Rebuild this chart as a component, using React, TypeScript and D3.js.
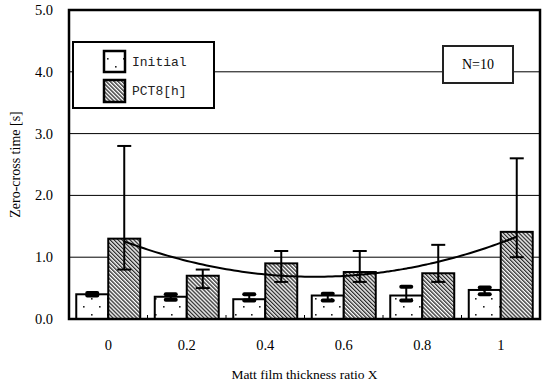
import React from 'react';
import * as d3 from 'd3';

const categories = ['0', '0.2', '0.4', '0.6', '0.8', '1'];
const initialMean = [0.4, 0.36, 0.32, 0.38, 0.38, 0.47];
const initialLow = [0.38, 0.31, 0.3, 0.3, 0.3, 0.4];
const initialHigh = [0.42, 0.4, 0.4, 0.41, 0.52, 0.51];
const pctMean = [1.3, 0.7, 0.9, 0.76, 0.74, 1.41];
const pctLow = [0.8, 0.5, 0.6, 0.6, 0.6, 1.0];
const pctHigh = [2.8, 0.8, 1.1, 1.1, 1.2, 2.6];
const yTicks = [0, 1, 2, 3, 4, 5];
const seriesNames = ['Initial', 'PCT8[h]'];

const W = 544;
const H = 387;
const left = 69, right = 540, top = 10, bottom = 319;

// quadratic least squares trend of the PCT series (Excel-style poly order 2)
function quadFit(ys: number[]) {
  const xs = ys.map((_, i) => i);
  const mx = d3.mean(xs) as number;
  const my = d3.mean(ys) as number;
  const u = xs.map(x => x - mx);
  const mu2 = d3.mean(u, v => v * v) as number;
  const w = u.map(v => v * v - mu2);
  const c = d3.sum(w, (v, i) => v * ys[i]) / d3.sum(w, v => v * v);
  const b = d3.sum(u, (v, i) => v * ys[i]) / d3.sum(u, v => v * v);
  return (x: number) => my + b * (x - mx) + c * ((x - mx) * (x - mx) - mu2);
}

const App = () => {
  const x = d3.scaleBand<string>().domain(categories).range([left, right]).padding(0);
  const inner = d3.scaleBand<string>().domain(['a', 'b']).range([0, x.bandwidth()])
    .paddingInner(0).paddingOuter(0.227);
  const y = d3.scaleLinear().domain([0, 5]).range([bottom, top]);
  const bw = inner.bandwidth();
  const fmt = d3.format('.1f');

  const trend = quadFit(pctMean);
  const xi = d3.scaleLinear().domain([0, categories.length - 1])
    .range([(x(categories[0]) as number) + (inner('b') as number) + bw / 2,
            (x(categories[categories.length - 1]) as number) + (inner('b') as number) + bw / 2]);
  const trendPts = d3.range(0, 5.0001, 0.05).map(t => [xi(t), y(trend(t))] as [number, number]);
  const line = d3.line().curve(d3.curveMonotoneX);

  const serif = '"Liberation Serif", "Times New Roman", serif';
  const mono = '"Liberation Mono", monospace';

  return (
    <div style={{ position: 'absolute', left: 0, top: 0 }}>
      <svg width={W} height={H} style={{ display: 'block', background: '#fff' }}>
        <defs>
          <pattern id="dots" patternUnits="userSpaceOnUse" width="16" height="16" x="3" y="2">
            <rect width="16" height="16" fill="#fff" />
            <rect x="0" y="0" width="1.6" height="1.6" fill="#222" />
            <rect x="8" y="8" width="1.6" height="1.6" fill="#222" />
          </pattern>
          <pattern id="hatch" patternUnits="userSpaceOnUse" width="2.8" height="10"
            patternTransform="rotate(-45)">
            <rect width="2.8" height="10" fill="#fff" />
            <line x1="0.7" y1="0" x2="0.7" y2="10" stroke="#111" strokeWidth="1.2" />
          </pattern>
        </defs>

        {/* gridlines */}
        {yTicks.slice(1, -1).map(t => (
          <line key={t} x1={left} x2={right} y1={y(t)} y2={y(t)} stroke="#000" strokeWidth={1} />
        ))}

        {/* category boundary ticks */}
        {categories.slice(1).map(c => (
          <line key={c} x1={x(c) as number} x2={x(c) as number} y1={bottom} y2={bottom - 4}
            stroke="#000" strokeWidth={1} />
        ))}

        {/* bars */}
        {categories.map((c, i) => {
          const x0 = (x(c) as number) + (inner('a') as number);
          const x1 = (x(c) as number) + (inner('b') as number);
          return (
            <g key={c}>
              <rect x={x0} y={y(initialMean[i])} width={bw} height={bottom - y(initialMean[i])}
                fill="url(#dots)" stroke="#000" strokeWidth={2} />
              <rect x={x1} y={y(pctMean[i])} width={bw} height={bottom - y(pctMean[i])}
                fill="url(#hatch)" stroke="#000" strokeWidth={2} />
            </g>
          );
        })}

        {/* trend */}
        <path d={line(trendPts) as string} fill="none" stroke="#000" strokeWidth={2} />

        {/* error bars */}
        {categories.map((c, i) => {
          const cx0 = (x(c) as number) + (inner('a') as number) + bw / 2;
          const cx1 = (x(c) as number) + (inner('b') as number) + bw / 2;
          return (
            <g key={c} stroke="#000">
              <line x1={cx0} x2={cx0} y1={y(initialLow[i])} y2={y(initialHigh[i])} strokeWidth={2} />
              <line x1={cx0 - 5} x2={cx0 + 5} y1={y(initialLow[i])} y2={y(initialLow[i])}
                strokeWidth={4} strokeLinecap="round" />
              <line x1={cx0 - 5} x2={cx0 + 5} y1={y(initialHigh[i])} y2={y(initialHigh[i])}
                strokeWidth={4} strokeLinecap="round" />
              <line x1={cx1} x2={cx1} y1={y(pctLow[i])} y2={y(pctHigh[i])} strokeWidth={2} />
              <line x1={cx1 - 7} x2={cx1 + 7} y1={y(pctLow[i])} y2={y(pctLow[i])} strokeWidth={2} />
              <line x1={cx1 - 7} x2={cx1 + 7} y1={y(pctHigh[i])} y2={y(pctHigh[i])} strokeWidth={2} />
            </g>
          );
        })}

        {/* frame */}
        <rect x={left} y={top} width={right - left} height={bottom - top} fill="none"
          stroke="#000" strokeWidth={2.5} />

        {/* y tick labels */}
        {yTicks.map(t => (
          <text key={t} x={53} y={y(t) + 5} textAnchor="end" fontFamily={serif} fontSize={14.5}>
            {fmt(t)}
          </text>
        ))}

        {/* x tick labels */}
        {categories.map(c => (
          <text key={c} x={(x(c) as number) + x.bandwidth() / 2} y={350} textAnchor="middle"
            fontFamily={serif} fontSize={14.5}>{c}</text>
        ))}

        <text x={(left + right) / 2} y={379} textAnchor="middle" fontFamily={serif} fontSize={13.5}>
          Matt film thickness ratio X
        </text>
        <text transform={`translate(20,${(top + bottom) / 2}) rotate(-90)`} textAnchor="middle"
          fontFamily={serif} fontSize={14}>Zero-cross time [s]</text>

        {/* legend */}
        <rect x={73} y={42} width={141} height={66} fill="#fff" stroke="#000" strokeWidth={2} />
        <rect x={104} y={51} width={21} height={21} fill="url(#dots)" stroke="#000" strokeWidth={2.5} />
        <rect x={104} y={80} width={21} height={22} fill="url(#hatch)" stroke="#000" strokeWidth={2.5} />
        <text x={132} y={66} fontFamily={mono} fontSize={13} fill="#222">{seriesNames[0]}</text>
        <text x={132} y={95} fontFamily={mono} fontSize={13} fill="#222">{seriesNames[1]}</text>

        {/* N box */}
        <rect x={443} y={46} width={70} height={37} fill="#fff" stroke="#222" strokeWidth={2} />
        <text x={478} y={69} textAnchor="middle" fontFamily={serif} fontSize={14}>N=10</text>
      </svg>
    </div>
  );
};

export default App;
